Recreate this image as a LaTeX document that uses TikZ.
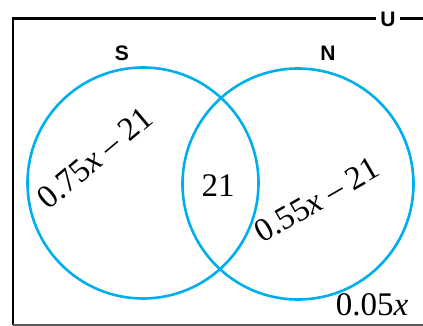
\documentclass[tikz,border=0pt]{standalone}
\usepackage{fontspec}
\setmainfont{Liberation Serif}
\setsansfont{Liberation Sans}
\usepackage{tikz}
\usetikzlibrary{positioning}
\definecolor{venncyan}{RGB}{0,174,239}

\begin{document}
\begin{tikzpicture}[
  x=1pt, y=-1pt,
  venn/.style={circle, draw=venncyan, line width=2.6pt, minimum size=231pt, inner sep=0pt},
  setlabel/.style={font=\sffamily\bfseries\fontsize{21}{21}\selectfont, inner sep=1pt},
  region/.style={font=\fontsize{33}{33}\selectfont, inner sep=0pt},
  frame/.style={line width=2.6pt}
]
  \useasboundingbox (0,0) rectangle (423,326);
  % the two sets
  \node[venn] (setS) at (143,183) {};
  \node[venn] (setN) at (298,184) {};
  \node[setlabel] (labS) at (122,53) {S};
  \node[setlabel] (labN) at (328,53) {N};
  % universal set frame
  \node[setlabel, inner sep=4pt] (univ) at (388,19) {U};
  \coordinate (topleft) at (13,18.5);
  \coordinate (botleft) at (13,325);
  \coordinate (topright) at (423,18.5);
  \coordinate (botright) at (423,325);
  \draw[frame] (univ.west |- topleft) -- (topleft) -- (botleft);
  \draw[frame] (univ.east |- topright) -- (topright);
  \draw[line width=1.6pt, black!65] (botleft) -- (botright);
  % regions
  \node[region, rotate=40] (onlyS) at (95,158) {0.75\textit{x} – 21};
  \node[region] (both) at (218,186) {21};
  \node[region, rotate=30] (onlyN) at (317,200) {0.55\textit{x} – 21};
  \node[region] (neither) at (372,305) {0.05\textit{x}};
\end{tikzpicture}
\end{document}
